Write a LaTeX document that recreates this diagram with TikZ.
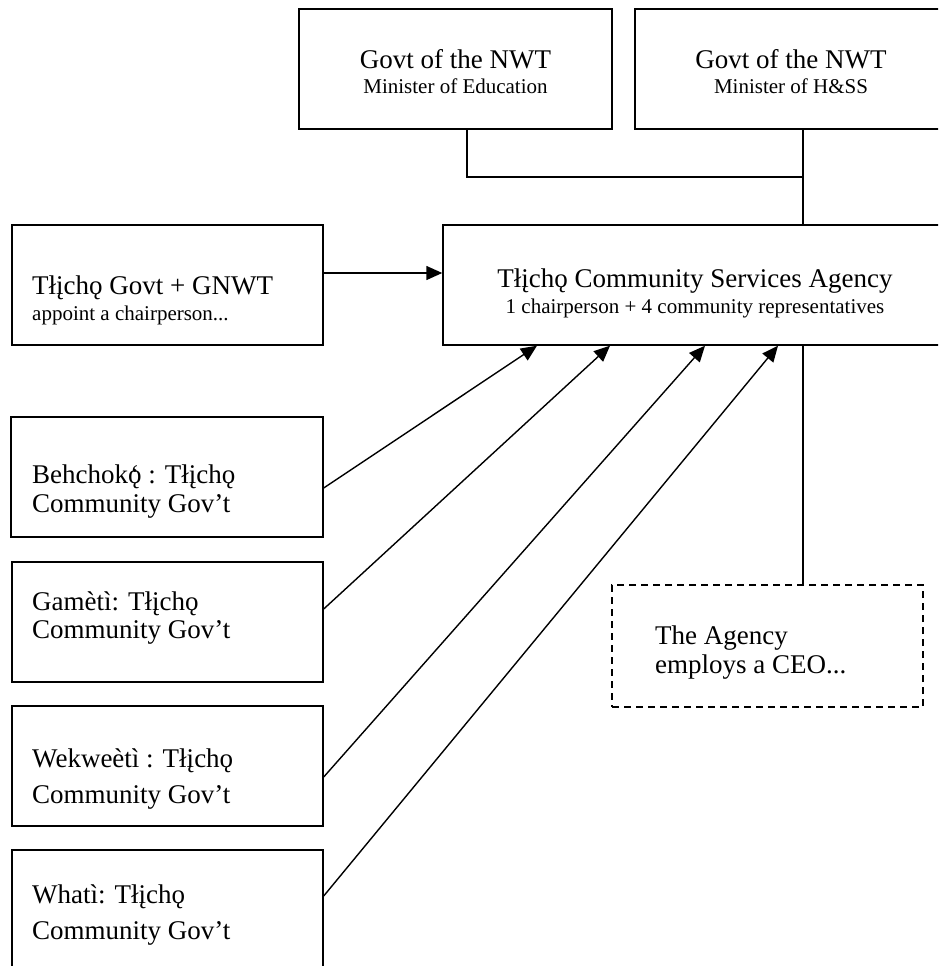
\documentclass[tikz,border=0pt]{standalone}
\usepackage{fontspec}
\setmainfont{Liberation Serif}
\usetikzlibrary{arrows.meta}
\tikzset{
  box/.style={draw, line width=1.4pt, inner sep=0pt},
  dbox/.style={draw, line width=1.4pt, inner sep=0pt, dash pattern=on 7pt off 5pt},
  tA/.style={font=\fontsize{27}{30}\selectfont, inner sep=0pt},
  tB/.style={font=\fontsize{21}{24}\selectfont, inner sep=0pt},
  conn/.style={line width=1.4pt},
  arr/.style={line width=1.4pt, -{Triangle[length=16pt,width=14pt]}},
}
\begin{document}
\begin{tikzpicture}[x=1pt,y=-1pt]
\useasboundingbox (0,0) rectangle (938,966);
\clip (0,0) rectangle (938,966);
% boxes
\node[box, minimum width=313pt, minimum height=120pt] (edu) at (455.5,69) {};
\node[box, minimum width=312pt, minimum height=120pt] (hss) at (791,69) {};
\node[box, minimum width=311pt, minimum height=120pt] (tgov) at (167.5,285) {};
\node[box, minimum width=504pt, minimum height=120pt] (agency) at (695,285) {};
\node[box, minimum width=312pt, minimum height=120pt] (b1) at (167,477) {};
\node[box, minimum width=311pt, minimum height=120pt] (b2) at (167.5,622) {};
\node[box, minimum width=311pt, minimum height=120pt] (b3) at (167.5,766) {};
\node[box, minimum width=311pt, minimum height=150pt] (b4) at (167.5,925) {};
\node[dbox, minimum width=311pt, minimum height=122pt] (ceo) at (767.5,646) {};
% texts
\node[tA, anchor=base] (edu1) at (455.5,68) {Govt of the NWT};
\node[tB, anchor=base] (edu2) at (455.5,93) {Minister of Education};
\node[tA, anchor=base] (hss1) at (791,68) {Govt of the NWT};
\node[tB, anchor=base] (hss2) at (791,93) {Minister of H\&SS};
\node[tA, anchor=base west] (tg1) at (32,294) {Tłįchǫ Govt + GNWT};
\node[tB, anchor=base west] (tg2) at (32,320) {appoint a chairperson...};
\node[tA, anchor=base] (ag1) at (695,287) {Tłįchǫ Community Services Agency};
\node[tB, anchor=base] (ag2) at (695,313) {1 chairperson + 4 community representatives};
\node[tA, anchor=base west] (b1a) at (32,483) {Behchok\accent"60 ǫ : Tłįchǫ};
\node[tA, anchor=base west] (b1b) at (32,512) {Community Gov’t};
\node[tA, anchor=base west] (b2a) at (32,610) {Gamètì: Tłįchǫ};
\node[tA, anchor=base west] (b2b) at (32,638) {Community Gov’t};
\node[tA, anchor=base west] (b3a) at (32,767) {Wekweètì : Tłįchǫ};
\node[tA, anchor=base west] (b3b) at (32,803) {Community Gov’t};
\node[tA, anchor=base west] (b4a) at (32,903) {Whatì: Tłįchǫ};
\node[tA, anchor=base west] (b4b) at (32,939) {Community Gov’t};
\node[tA, anchor=base west] (ce1) at (655,644) {The Agency};
\node[tA, anchor=base west] (ce2) at (655,673) {employs a CEO...};
% helper coordinates
\coordinate (j) at (803,177);
\coordinate (ay) at (0,273);
\coordinate (s1) at (0,488);
\coordinate (s2) at (0,609);
\coordinate (s3) at (0,777);
\coordinate (s4) at (0,896);
\coordinate (e1) at (537,0);
\coordinate (e2) at (610,0);
\coordinate (e3) at (705,0);
\coordinate (e4) at (778,0);
% connectors
\draw[conn] (edu.south -| 467,0) |- (j);
\draw[conn] (hss.south -| j) -- (agency.north -| j);
\draw[arr] (tgov.east |- ay) -- (agency.west |- ay);
\draw[arr] (b1.east |- s1) -- (agency.south -| e1);
\draw[arr] (b2.east |- s2) -- (agency.south -| e2);
\draw[arr] (b3.east |- s3) -- (agency.south -| e3);
\draw[arr] (b4.east |- s4) -- (agency.south -| e4);
\draw[conn] (agency.south -| j) -- (ceo.north -| j);
\end{tikzpicture}
\end{document}
